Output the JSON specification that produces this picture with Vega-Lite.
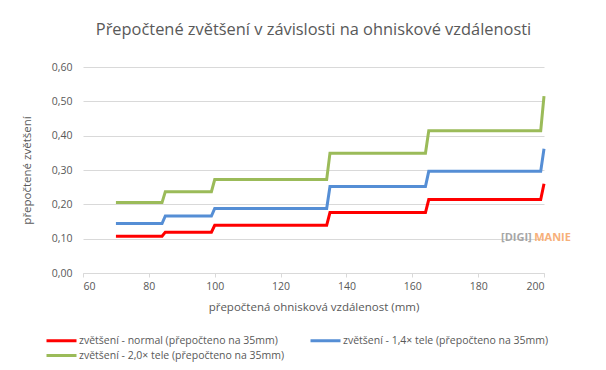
{
  "$schema": "https://vega.github.io/schema/vega-lite/v6.json",
  "autosize": {"type": "none"},
  "padding": {"left": 83, "top": 67, "right": 62, "bottom": 97},
  "width": 461,
  "height": 206,
  "background": "white",
  "config": {
    "view": {"stroke": null},
    "font": "Open Sans"
  },
  "title": {
    "text": "Přepočtené zvětšení v závislosti na ohniskové vzdálenosti",
    "fontSize": 16.4,
    "fontWeight": "normal",
    "color": "#595959",
    "anchor": "middle",
    "offset": 24
  },
  "datasets": {
    "lines": [
      {"f": 70, "m": 0.107, "s": "zvětšení - normal (přepočteno na 35mm)"},
      {"f": 84, "m": 0.107, "s": "zvětšení - normal (přepočteno na 35mm)"},
      {"f": 85, "m": 0.119, "s": "zvětšení - normal (přepočteno na 35mm)"},
      {"f": 99, "m": 0.119, "s": "zvětšení - normal (přepočteno na 35mm)"},
      {"f": 100, "m": 0.139, "s": "zvětšení - normal (přepočteno na 35mm)"},
      {"f": 134, "m": 0.139, "s": "zvětšení - normal (přepočteno na 35mm)"},
      {"f": 135, "m": 0.176, "s": "zvětšení - normal (přepočteno na 35mm)"},
      {"f": 164, "m": 0.176, "s": "zvětšení - normal (přepočteno na 35mm)"},
      {"f": 165, "m": 0.214, "s": "zvětšení - normal (přepočteno na 35mm)"},
      {"f": 199, "m": 0.214, "s": "zvětšení - normal (přepočteno na 35mm)"},
      {"f": 200, "m": 0.26, "s": "zvětšení - normal (přepočteno na 35mm)"},
      {"f": 70, "m": 0.144, "s": "zvětšení - 1,4× tele (přepočteno na 35mm)"},
      {"f": 84, "m": 0.144, "s": "zvětšení - 1,4× tele (přepočteno na 35mm)"},
      {"f": 85, "m": 0.166, "s": "zvětšení - 1,4× tele (přepočteno na 35mm)"},
      {"f": 99, "m": 0.166, "s": "zvětšení - 1,4× tele (přepočteno na 35mm)"},
      {"f": 100, "m": 0.188, "s": "zvětšení - 1,4× tele (přepočteno na 35mm)"},
      {"f": 134, "m": 0.188, "s": "zvětšení - 1,4× tele (přepočteno na 35mm)"},
      {"f": 135, "m": 0.252, "s": "zvětšení - 1,4× tele (přepočteno na 35mm)"},
      {"f": 164, "m": 0.252, "s": "zvětšení - 1,4× tele (přepočteno na 35mm)"},
      {"f": 165, "m": 0.296, "s": "zvětšení - 1,4× tele (přepočteno na 35mm)"},
      {"f": 199, "m": 0.296, "s": "zvětšení - 1,4× tele (přepočteno na 35mm)"},
      {"f": 200, "m": 0.362, "s": "zvětšení - 1,4× tele (přepočteno na 35mm)"},
      {"f": 70, "m": 0.205, "s": "zvětšení - 2,0× tele (přepočteno na 35mm)"},
      {"f": 84, "m": 0.205, "s": "zvětšení - 2,0× tele (přepočteno na 35mm)"},
      {"f": 85, "m": 0.237, "s": "zvětšení - 2,0× tele (přepočteno na 35mm)"},
      {"f": 99, "m": 0.237, "s": "zvětšení - 2,0× tele (přepočteno na 35mm)"},
      {"f": 100, "m": 0.272, "s": "zvětšení - 2,0× tele (přepočteno na 35mm)"},
      {"f": 134, "m": 0.272, "s": "zvětšení - 2,0× tele (přepočteno na 35mm)"},
      {"f": 135, "m": 0.349, "s": "zvětšení - 2,0× tele (přepočteno na 35mm)"},
      {"f": 164, "m": 0.349, "s": "zvětšení - 2,0× tele (přepočteno na 35mm)"},
      {"f": 165, "m": 0.414, "s": "zvětšení - 2,0× tele (přepočteno na 35mm)"},
      {"f": 199, "m": 0.414, "s": "zvětšení - 2,0× tele (přepočteno na 35mm)"},
      {"f": 200, "m": 0.515, "s": "zvětšení - 2,0× tele (přepočteno na 35mm)"}
    ],
    "mark": [
      {"f": 191.6, "m": 0.103, "t": "[DIGI]", "c": "#A6A6A6"},
      {"f": 202.6, "m": 0.103, "t": "MANIE", "c": "#F7B07A"}
    ]
  },
  "encoding": {
    "x": {
      "field": "f", "type": "quantitative",
      "scale": {"domain": [60, 200], "nice": false, "zero": false},
      "axis": {
        "values": [60, 80, 100, 120, 140, 160, 180, 200],
        "title": "přepočtená ohnisková vzdálenost (mm)",
        "grid": false,
        "labelOverlap": false,
        "domainColor": "#D9D9D9",
        "tickColor": "#D9D9D9",
        "tickSize": 4,
        "labelPadding": 4,
        "labelFontSize": 10.5,
        "labelColor": "#595959",
        "titleFontSize": 11.5,
        "titleFontWeight": "normal",
        "titleColor": "#595959",
        "titlePadding": 10
      }
    },
    "y": {
      "field": "m", "type": "quantitative",
      "scale": {"domain": [0, 0.6], "nice": false, "zero": false},
      "axis": {
        "values": [0, 0.1, 0.2, 0.3, 0.4, 0.5, 0.6],
        "tickCount": 7,
        "labelExpr": "replace(format(datum.value, '.2f'), '.', ',')",
        "labelOverlap": false,
        "title": "přepočtené  zvětšení",
        "domain": false,
        "ticks": false,
        "grid": true,
        "gridColor": "#D9D9D9",
        "labelPadding": 11,
        "labelFontSize": 10.5,
        "labelColor": "#595959",
        "titleFontSize": 11.5,
        "titleFontWeight": "normal",
        "titleColor": "#595959",
        "titlePadding": 19
      }
    }
  },
  "layer": [
    {
      "data": {"name": "lines"},
      "mark": {"type": "line", "strokeWidth": 3, "clip": false},
      "encoding": {
        "color": {
          "field": "s", "type": "nominal",
          "scale": {
            "domain": ["zvětšení - normal (přepočteno na 35mm)", "zvětšení - 1,4× tele (přepočteno na 35mm)", "zvětšení - 2,0× tele (přepočteno na 35mm)"],
            "range": ["#FF0000", "#558ED5", "#9BBB59"]
          },
          "legend": {
            "title": null,
            "orient": "none",
            "direction": "horizontal",
            "legendX": -18,
            "legendY": 267,
            "columns": 2,
            "padding": 0,
            "symbolType": "M-5,0H1",
            "symbolSize": 100,
            "symbolStrokeWidth": 3,
            "labelOffset": 1,
            "labelFontSize": 10.5,
            "labelColor": "#595959",
            "labelLimit": 0,
            "rowPadding": 2,
            "columnPadding": 19
          }
        }
      }
    },
    {
      "data": {"name": "mark"},
      "mark": {"type": "text", "fontWeight": "bold", "fontSize": 11, "clip": false},
      "encoding": {
        "text": {"field": "t"},
        "color": {"field": "c", "type": "nominal", "scale": null}
      }
    }
  ]
}
